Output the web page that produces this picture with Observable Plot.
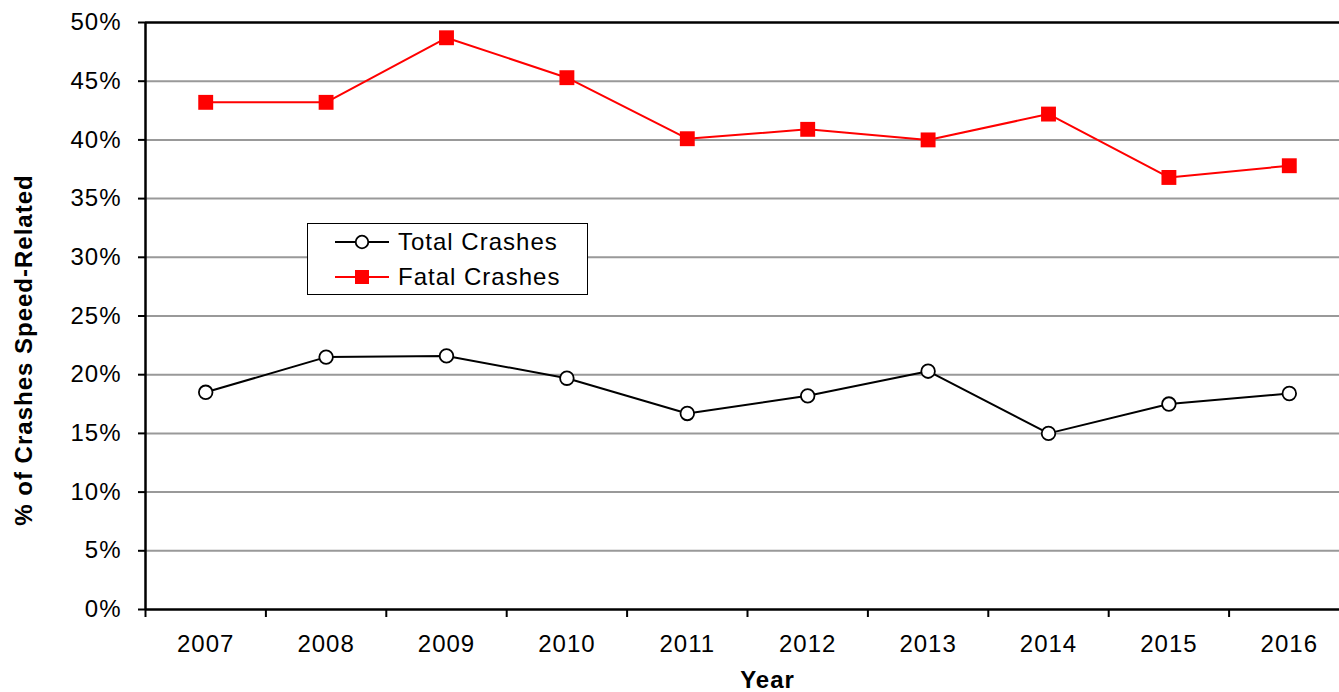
<!DOCTYPE html>
<html>
<head>
<meta charset="utf-8">
<script src="https://cdn.jsdelivr.net/npm/d3@7"></script>
<script src="https://cdn.jsdelivr.net/npm/@observablehq/plot@0.6"></script>
<style>
  html, body { margin: 0; padding: 0; background: #fff; overflow: hidden; }
  #wrap { position: relative; width: 1339px; height: 692px; overflow: hidden; }
  #wrap > svg { max-width: none !important; width: 1350px; height: 692px; }
  #wrap svg text { letter-spacing: 1px; }
  .legend {
    position: absolute; left: 307px; top: 223px; width: 279px; height: 70px;
    background: #fff; border: 1.5px solid #000;
    font-family: "Liberation Sans", Arial, sans-serif; font-size: 24px; letter-spacing: 1px;
  }
  .legend .row { position: absolute; left: 0; height: 30px; display: flex; align-items: center; }
  .legend svg { display: block; }
  .legend span { margin-left: 8px; }
</style>
</head>
<body>
<div id="wrap"></div>
<script>
// Share of crashes that were speed-related, by year
const years = [2007, 2008, 2009, 2010, 2011, 2012, 2013, 2014, 2015, 2016];
const totalCrashes = [18.5, 21.5, 21.6, 19.7, 16.7, 18.2, 20.3, 15.0, 17.5, 18.4];
const fatalCrashes = [43.2, 43.2, 48.7, 45.3, 40.1, 40.9, 40.0, 42.2, 36.8, 37.8];
const yTicks = [0, 5, 10, 15, 20, 25, 30, 35, 40, 45, 50];
const yLabel = "% of Crashes Speed-Related";
const xLabel = "Year";

const total = years.map((year, i) => ({year, value: totalCrashes[i]}));
const fatal = years.map((year, i) => ({year, value: fatalCrashes[i]}));
// category boundaries for the x-axis tick marks
const boundaries = [...years.map(y => y - 0.5), years[years.length - 1] + 0.5];
const xDomain = [boundaries[0], boundaries[boundaries.length - 1]];

const chart = Plot.plot({
  width: 1350,
  height: 692,
  marginLeft: 145,
  marginRight: 1,
  marginTop: 22,
  marginBottom: 83,
  style: {fontFamily: "'Liberation Sans', Arial, sans-serif", fontSize: "24px", color: "#000", background: "#fff"},
  x: {type: "linear", domain: xDomain},
  y: {domain: [0, 50]},
  marks: [
    Plot.ruleY(yTicks.filter(d => d > 0 && d < 50), {stroke: "#999", strokeWidth: 2}),
    Plot.ruleY([50], {stroke: "#000", strokeWidth: 2.5}),
    Plot.ruleY([0], {stroke: "#000", strokeWidth: 2.5}),
    Plot.ruleX([xDomain[0]], {stroke: "#000", strokeWidth: 2.5}),
    Plot.axisY({ticks: yTicks, tickFormat: d => d + "%", tickSize: 7, tickPadding: 17, strokeWidth: 2, label: null}),
    Plot.axisX({ticks: years, tickFormat: d => String(d), tickSize: 0, tickPadding: 25, label: null}),
    Plot.axisX({ticks: boundaries, tickFormat: () => "", tickSize: 8, strokeWidth: 2, label: null}),
    Plot.line(fatal, {x: "year", y: "value", stroke: "#ff0000", strokeWidth: 2}),
    Plot.dot(fatal, {x: "year", y: "value", symbol: "square", r: 8.4, fill: "#ff0000", stroke: "none"}),
    Plot.line(total, {x: "year", y: "value", stroke: "#000", strokeWidth: 2}),
    Plot.dot(total, {x: "year", y: "value", r: 6.8, fill: "#fff", stroke: "#000", strokeWidth: 1.8}),
    Plot.text([yLabel], {frameAnchor: "left", textAnchor: "middle", lineAnchor: "middle", rotate: -90,
      dx: -121, dy: 34, fontWeight: "bold", fontSize: 24}),
    Plot.text([xLabel], {frameAnchor: "bottom", textAnchor: "middle", lineAnchor: "middle",
      dx: 20, dy: 71, fontWeight: "bold", fontSize: 24})
  ]
});

const wrap = document.getElementById("wrap");
wrap.appendChild(chart);

// Legend box
const legend = document.createElement("div");
legend.className = "legend";
legend.innerHTML = `
  <div class="row" style="top:3px;left:26px">
    <svg width="56" height="20"><line x1="1" y1="10" x2="55" y2="10" stroke="#000" stroke-width="2"/>
      <circle cx="28" cy="10" r="6.3" fill="#fff" stroke="#000" stroke-width="1.8"/></svg>
    <span>Total Crashes</span>
  </div>
  <div class="row" style="top:38px;left:26px">
    <svg width="56" height="20"><line x1="1" y1="10" x2="55" y2="10" stroke="#ff0000" stroke-width="2"/>
      <rect x="21" y="3" width="14" height="14" fill="#ff0000"/></svg>
    <span>Fatal Crashes</span>
  </div>`;
wrap.appendChild(legend);
</script>
</body>
</html>
